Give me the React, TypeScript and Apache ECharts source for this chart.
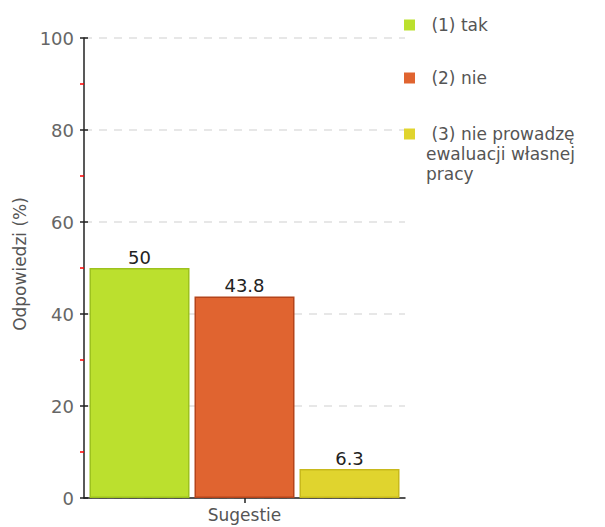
import React, { useEffect, useRef } from "react";
import * as echarts from "echarts";

const categories = ["Sugestie"];
const seriesNames = ["(1) tak", "(2) nie", "(3) nie prowadzę ewaluacji własnej pracy"];
const legendLabels = [" (1) tak", " (2) nie", "\n\n (3) nie prowadzę\newaluacji własnej\npracy"];
const values = [50, 43.8, 6.3];
const fillColors = ["#bbe02e", "#e06430", "#e0d42e"];
const borderColors = ["#9dc21e", "#b4441b", "#c8b91c"];
const yMin = 0;
const yMax = 100;
const yInterval = 20;
const yAxisName = "Odpowiedzi (%)";

const FONT = "DejaVu Sans";
const legendTops = [15, 68, 84];

export default function App() {
  const ref = useRef<HTMLDivElement>(null);
  useEffect(() => {
    if (!ref.current) return;
    const chart = echarts.init(ref.current, null, { renderer: "svg" });
    const axisColor = "#222";
    chart.setOption({
      animation: false,
      backgroundColor: "#ffffff",
      grid: { left: 84, right: 200, top: 38, bottom: 29, containLabel: false },
      legend: seriesNames.map((name, i) => ({
        data: [name],
        orient: "vertical",
        left: 404,
        top: legendTops[i],
        padding: 0,
        itemWidth: 11,
        itemHeight: 11,
        itemGap: 0,
        icon: "rect",
        selectedMode: false,
        formatter: () => legendLabels[i],
        itemStyle: { borderWidth: 0 },
        textStyle: {
          fontFamily: FONT,
          fontSize: 17,
          color: "#555",
          lineHeight: 20,
          padding: [0, 0, 0, 6],
        },
      })),
      xAxis: {
        type: "category",
        data: categories,
        axisLine: { show: true, lineStyle: { color: axisColor, width: 1.5 } },
        axisTick: { show: true, alignWithLabel: true, length: 5, lineStyle: { color: axisColor, width: 1.5 } },
        axisLabel: { margin: 8, fontFamily: FONT, fontSize: 17, color: "#555" },
        splitLine: { show: false },
      },
      yAxis: [
        {
          type: "value",
          min: yMin,
          max: yMax,
          interval: yInterval,
          name: yAxisName,
          nameLocation: "middle",
          nameGap: 52,
          nameTextStyle: { fontFamily: FONT, fontSize: 17, color: "#555", padding: [0, 0, 0, 8] },
          axisLine: { show: true, lineStyle: { color: axisColor, width: 1.5 } },
          axisTick: { show: true, length: 4, lineStyle: { color: axisColor, width: 1.5 } },
          minorTick: { show: true, splitNumber: 2, length: 4, lineStyle: { color: "#ff0000", width: 1.5 } },
          axisLabel: { margin: 10, fontFamily: FONT, fontSize: 18, color: "#666" },
          splitLine: { show: true, lineStyle: { color: "#e0e0e0", width: 1.5, type: [8, 7] } },
        },
        {
          type: "value",
          min: yMin,
          max: yMax,
          interval: yInterval,
          position: "left",
          axisLine: { show: false },
          axisTick: { show: true, inside: true, length: 4, lineStyle: { color: axisColor, width: 1.5 } },
          axisLabel: { show: false },
          splitLine: { show: false },
        },
      ],
      series: seriesNames.map((name, i) => ({
        type: "bar",
        name,
        yAxisIndex: 0,
        data: [values[i]],
        barWidth: 100,
        barGap: "5%",
        itemStyle: { color: fillColors[i], borderColor: borderColors[i], borderWidth: 1.5 },
        label: {
          show: true,
          position: "top",
          distance: 2,
          fontFamily: FONT,
          fontSize: 18,
          color: "#222",
        },
      })),
    });
    return () => chart.dispose();
  }, []);
  return (
    <div
      ref={ref}
      style={{ position: "fixed", left: 0, top: 0, width: 605, height: 527 }}
    />
  );
}
